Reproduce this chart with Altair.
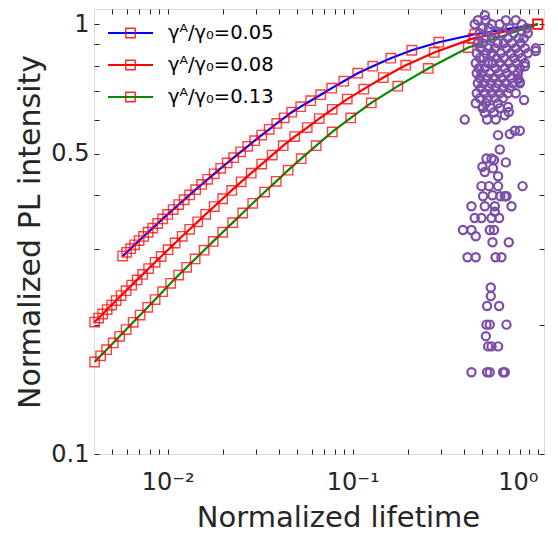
import altair as alt
import pandas as pd

# ---- curve data ----
blue_x = [0.005711, 0.006003, 0.006310, 0.006631, 0.007013, 0.007418, 0.007846, 0.008298, 0.008830, 0.009397,
          0.01000, 0.01071, 0.01147, 0.01228, 0.01315, 0.01417, 0.01527, 0.01645, 0.01784, 0.01934,
          0.02097, 0.02274, 0.02481, 0.02707, 0.02953, 0.03222, 0.03537, 0.03884, 0.04264, 0.04680,
          0.05235, 0.05929, 0.06714, 0.07701, 0.08942, 0.1064, 0.1283, 0.1605, 0.2084, 0.2917, 0.4565, 1.0]
blue_y = [0.2887, 0.2946, 0.3005, 0.3067, 0.3137, 0.3208, 0.3281, 0.3354, 0.3438, 0.3524,
          0.3609, 0.3705, 0.3806, 0.3905, 0.4007, 0.4122, 0.4238, 0.4356, 0.4486, 0.4620,
          0.4755, 0.4891, 0.5047, 0.5200, 0.5359, 0.5522, 0.5696, 0.5876, 0.6057, 0.6241,
          0.6429, 0.6639, 0.6855, 0.7100, 0.7369, 0.7692, 0.7985, 0.8336, 0.8699, 0.9082, 0.9479, 1.0]

red_x = [0.004031, 0.004236, 0.004452, 0.004710, 0.004981, 0.005267, 0.005604, 0.005966, 0.006390, 0.006841,
         0.007326, 0.007895, 0.008558, 0.009224, 0.01006, 0.01098, 0.01198, 0.01315, 0.01453, 0.01605,
         0.01784, 0.01983, 0.02218, 0.02496, 0.02828, 0.03222, 0.03672, 0.04211, 0.04858, 0.05676,
         0.06590, 0.07749, 0.09340, 0.1147, 0.1462, 0.1934, 0.2757, 0.4480, 1.0]
red_y = [0.2028, 0.2072, 0.2117, 0.2168, 0.2221, 0.2275, 0.2337, 0.2399, 0.2470, 0.2542,
         0.2617, 0.2701, 0.2793, 0.2881, 0.2988, 0.3097, 0.3210, 0.3333, 0.3469, 0.3612,
         0.3765, 0.3926, 0.4105, 0.4298, 0.4503, 0.4727, 0.4960, 0.5216, 0.5477, 0.5747,
         0.6032, 0.6340, 0.6696, 0.7062, 0.7514, 0.8029, 0.8598, 0.9268, 1.0]

green_x = [0.004031, 0.004343, 0.004680, 0.005076, 0.005502, 0.005966, 0.006510, 0.007103, 0.007797, 0.008558,
           0.009397, 0.01038, 0.01147, 0.01267, 0.01408, 0.01575, 0.01762, 0.01983, 0.02246, 0.02543,
           0.02881, 0.03344, 0.03860, 0.04480, 0.05267, 0.06349, 0.07749, 0.09754, 0.1259, 0.1751,
           0.2559, 0.4211, 1.0]
green_y = [0.1637, 0.1692, 0.1749, 0.1813, 0.1879, 0.1948, 0.2025, 0.2105, 0.2194, 0.2288,
           0.2386, 0.2495, 0.2608, 0.2719, 0.2843, 0.2980, 0.3124, 0.3281, 0.3454, 0.3637,
           0.3831, 0.4069, 0.4309, 0.4576, 0.4866, 0.5216, 0.5616, 0.6054, 0.6561, 0.7176,
           0.7889, 0.8828, 1.0]

series_names = ["γᴬ/γ₀=0.05", "γᴬ/γ₀=0.08", "γᴬ/γ₀=0.13"]
series_colors = ["#0000ff", "#ff0000", "#008a00"]

# ---- measured dots (purple circles) ----
dot_x = [0.517,
         0.474, 0.524, 0.672, 0.760,
         0.456, 0.564, 0.623, 0.819,
         0.504, 0.543, 0.706, 0.872,
         0.486, 0.586, 0.647, 0.742, 0.883,
         0.524, 0.564, 0.689, 0.789, 0.840,
         0.474, 0.504, 0.608, 0.655, 0.724, 0.809,
         0.492, 0.543, 0.586, 0.680, 0.760, 0.851, 0.975,
         0.468, 0.524, 0.564, 0.631, 0.715, 0.789, 0.883,
         0.486, 0.510, 0.600, 0.655, 0.742, 0.819,
         0.462, 0.537, 0.571, 0.623, 0.697, 0.770, 0.851,
         0.480, 0.517, 0.593, 0.663, 0.724, 0.799,
         0.468, 0.498, 0.550, 0.615, 0.680, 0.780,
         0.486, 0.530, 0.579, 0.639, 0.715, 0.780,
         0.474, 0.510, 0.557, 0.608, 0.672, 0.733, 0.799,
         0.492, 0.543, 0.593, 0.647, 0.706,
         0.468, 0.517, 0.564, 0.623, 0.689, 0.760,
         0.486, 0.537, 0.586, 0.647,
         0.462, 0.524, 0.608,
         0.504, 0.557, 0.623,
         0.579,
         0.975, 0.851, 0.783, 0.799, 0.843, 0.691, 0.697, 0.506, 0.517, 0.403,
         0.532, 0.593, 0.663, 0.610, 0.706, 0.751, 0.799, 0.623, 0.528, 0.562,
         0.580, 0.672, 0.502, 0.573, 0.517, 0.610,
         0.496, 0.545, 0.610, 0.827,
         0.506, 0.569, 0.628, 0.663, 0.677,
         0.438, 0.517, 0.586, 0.721,
         0.586,
         0.456, 0.496, 0.562, 0.618,
         0.394, 0.438, 0.550, 0.580,
         0.462,
         0.569, 0.697,
         0.417, 0.462, 0.591, 0.636,
         0.557, 0.557,
         0.532, 0.618,
         0.528, 0.550, 0.677,
         0.524,
         0.539, 0.562, 0.610,
         0.438, 0.532, 0.550, 0.649, 0.663]
dot_y = [1.049,
         1.022, 1.022, 1.022, 1.022,
         1.000, 1.000, 1.000, 1.000,
         0.979, 0.979, 0.979, 0.979,
         0.953, 0.953, 0.953, 0.953, 0.953,
         0.928, 0.928, 0.928, 0.928, 0.928,
         0.903, 0.903, 0.903, 0.903, 0.903, 0.903,
         0.879, 0.879, 0.879, 0.879, 0.879, 0.879, 0.879,
         0.856, 0.856, 0.856, 0.856, 0.856, 0.856, 0.856,
         0.834, 0.834, 0.834, 0.834, 0.834, 0.834,
         0.812, 0.812, 0.812, 0.812, 0.812, 0.812, 0.812,
         0.790, 0.790, 0.790, 0.790, 0.790, 0.790,
         0.769, 0.769, 0.769, 0.769, 0.769, 0.769,
         0.749, 0.749, 0.749, 0.749, 0.749, 0.749,
         0.729, 0.729, 0.729, 0.729, 0.729, 0.729, 0.729,
         0.710, 0.710, 0.710, 0.710, 0.710,
         0.691, 0.691, 0.691, 0.691, 0.691, 0.691,
         0.673, 0.673, 0.673, 0.673,
         0.655, 0.655, 0.655,
         0.638, 0.638, 0.638,
         0.624,
         0.866, 0.798, 0.744, 0.734, 0.666, 0.642, 0.625, 0.642, 0.622, 0.600,
         0.600, 0.600, 0.614, 0.552, 0.555, 0.565, 0.565, 0.511, 0.487, 0.487,
         0.483, 0.477, 0.466, 0.462, 0.453, 0.443,
         0.420, 0.420, 0.420, 0.420,
         0.398, 0.400, 0.398, 0.398, 0.398,
         0.377, 0.377, 0.377, 0.377,
         0.366,
         0.354, 0.354, 0.354, 0.354,
         0.332, 0.332, 0.332, 0.332,
         0.321,
         0.311, 0.311,
         0.287, 0.287, 0.287, 0.287,
         0.244, 0.233,
         0.221, 0.221,
         0.200, 0.200, 0.200,
         0.188,
         0.178, 0.178, 0.178,
         0.155, 0.155, 0.155, 0.155, 0.155]

x_ticks = [0.005, 0.006, 0.007, 0.008, 0.009,
           0.01, 0.02, 0.03, 0.04, 0.05, 0.06, 0.07, 0.08, 0.09,
           0.1, 0.2, 0.3, 0.4, 0.5, 0.6, 0.7, 0.8, 0.9, 1]
y_ticks = [0.1, 0.2, 0.3, 0.4, 0.5, 0.6, 0.7, 0.8, 0.9, 1]

curves = pd.DataFrame({
    "x": blue_x + red_x + green_x,
    "y": blue_y + red_y + green_y,
    "series": [series_names[0]] * len(blue_x) + [series_names[1]] * len(red_x) + [series_names[2]] * len(green_x),
})
dots = pd.DataFrame({"x": dot_x, "y": dot_y})

FONT = "DejaVu Sans"
AX = "#262626"
W, H = 450, 445

xs = alt.Scale(type="log", domain=[0.004, 1.08], nice=False)
ys = alt.Scale(type="log", domain=[0.1, 1.085], nice=False)

x_expr = "datum.value == 0.01 ? '10⁻²' : datum.value == 0.1 ? '10⁻¹' : datum.value == 1 ? '10⁰' : ''"
y_expr = "datum.value == 1 ? '1' : datum.value == 0.5 ? '0.5' : datum.value == 0.1 ? '0.1' : ''"

x_axis = alt.Axis(values=x_ticks, labelExpr=x_expr, orient="bottom", offset=-5, tickSize=5,
                  domain=False, grid=False, tickColor=AX, tickWidth=1,
                  labelFont=FONT, labelFontSize=24, labelColor=AX, labelPadding=16,
                  labelOverlap=False, labelFlush=12,
                  title="Normalized lifetime", titleFont=FONT, titleFontSize=29,
                  titleFontWeight="normal", titleColor=AX, titlePadding=9, titleX=244)
y_axis = alt.Axis(values=y_ticks, labelExpr=y_expr, orient="left", offset=-5, tickSize=5,
                  domain=False, grid=False, tickColor=AX, tickWidth=1,
                  labelFont=FONT, labelFontSize=24, labelColor=AX, labelPadding=5,
                  labelOverlap=False,
                  title="Normalized PL intensity", titleFont=FONT, titleFontSize=30,
                  titleFontWeight="normal", titleColor=AX, titlePadding=5)

lines = alt.Chart(curves).mark_line(strokeWidth=2.2).encode(
    x=alt.X("x:Q", scale=xs, axis=x_axis),
    y=alt.Y("y:Q", scale=ys, axis=y_axis),
    color=alt.Color("series:N", scale=alt.Scale(domain=series_names, range=series_colors), legend=None),
    detail="series:N",
)

squares = alt.Chart(curves).mark_point(shape="square", filled=False, color="#ff0000",
                                       size=88, strokeWidth=1.4, opacity=0.75).encode(
    x=alt.X("x:Q", scale=xs, axis=None),
    y=alt.Y("y:Q", scale=ys, axis=None),
)

circles = alt.Chart(dots).mark_point(shape="circle", filled=False, color="#7b4ea8",
                                     size=68, strokeWidth=2.2, opacity=1).encode(
    x=alt.X("x:Q", scale=xs, axis=None),
    y=alt.Y("y:Q", scale=ys, axis=None),
)

box = alt.Chart(curves).mark_point(opacity=0).encode(
    x=alt.X("x:Q", scale=xs, axis=alt.Axis(orient="top", values=x_ticks, labels=False, offset=-5,
                                          tickSize=5, domain=False, grid=False, tickColor=AX, title=None)),
    y=alt.Y("y:Q", scale=ys, axis=alt.Axis(orient="right", values=y_ticks, labels=False, offset=-5,
                                          tickSize=5, domain=False, grid=False, tickColor=AX, title=None)),
)

legend_layers = []
one = pd.DataFrame({"k": [0]})
for i, (name, col) in enumerate(zip(series_names, series_colors)):
    yy = 24 + 32 * i
    legend_layers.append(alt.Chart(one).mark_rule(color=col, strokeWidth=2.2).encode(
        x=alt.value(14), x2=alt.value(59), y=alt.value(yy)))
    legend_layers.append(alt.Chart(one).mark_point(shape="square", filled=False, color="#ff0000",
                                                   size=88, strokeWidth=1.4, opacity=0.85).encode(
        x=alt.value(36.5), y=alt.value(yy)))
    legend_layers.append(alt.Chart(one).mark_text(align="left", baseline="middle", font=FONT,
                                                  fontSize=19.5, color="#000000").encode(
        x=alt.value(74), y=alt.value(yy), text=alt.value(name)))

chart = alt.layer(lines, squares, circles, box, *legend_layers).resolve_axis(
    x="independent", y="independent"
).properties(
    width=W, height=H,
    padding={"left": 86, "top": 1, "right": 6, "bottom": 86},
    autosize=alt.AutoSizeParams(type="none"),
).configure_view(stroke=AX, strokeWidth=1.5).configure(background="white")

chart.save("out.html", embed_options={"renderer": "svg", "actions": False})
